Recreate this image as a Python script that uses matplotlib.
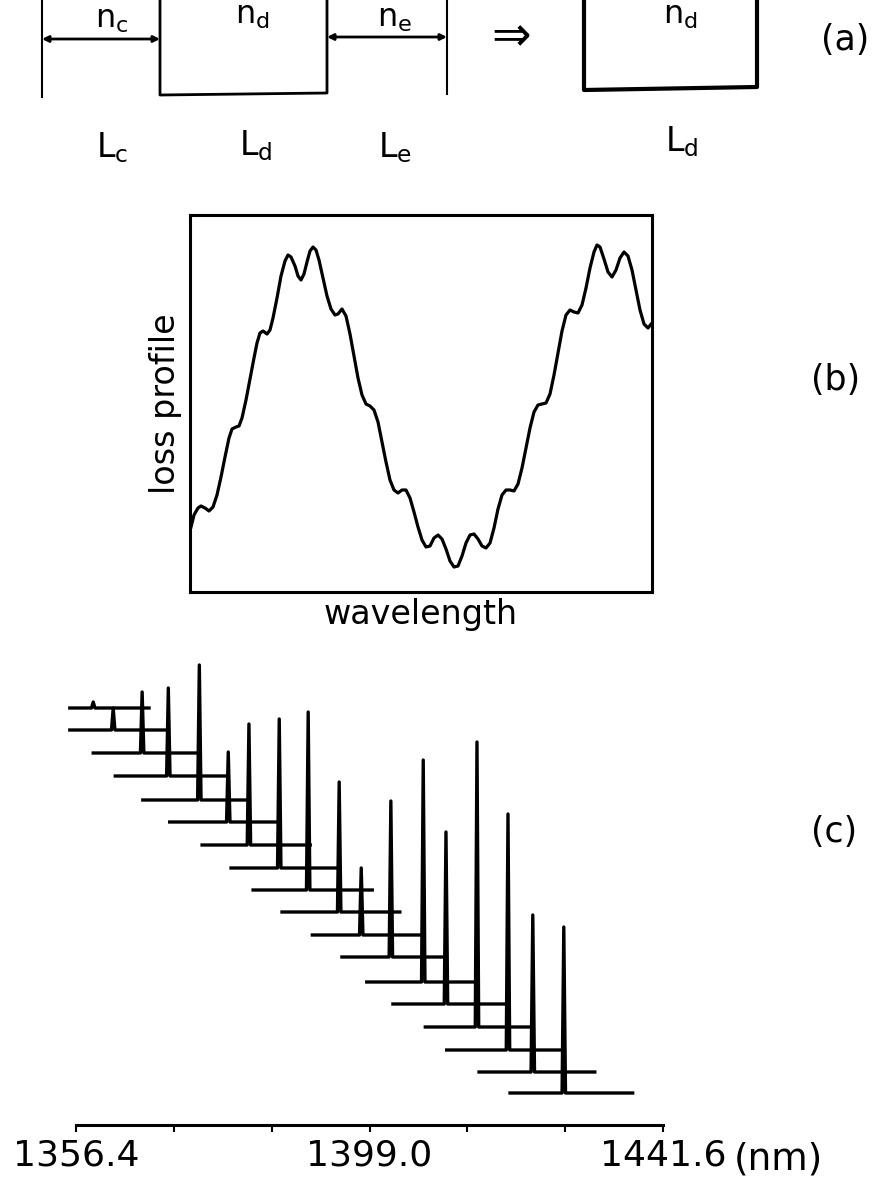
# -*- coding: utf-8 -*-
"""
Three-panel figure: cavity schematic (a), loss profile (b) and the
stacked lasing spectra (c).
"""

import matplotlib
matplotlib.use('Agg')
import matplotlib.pyplot as plt
import numpy as np

#-----------------------------------------------------------------------------------------------------------------------
# Panel (b): loss profile versus wavelength (arbitrary units)
wl_index = [1, 4, 8, 11, 15, 19, 23, 27, 31, 35, 39, 42, 46, 49, 52, 56, 60, 64, 67, 70,
            73, 77, 80, 83, 87, 91, 95, 98, 101, 105, 108, 111, 114, 117, 120, 123, 126, 129, 133, 137,
            141, 145, 148, 152, 156, 160, 164, 168, 172, 176, 180, 184, 188, 192, 196, 200, 204, 208, 212, 216,
            220, 224, 228, 232, 236, 240, 244, 248, 252, 256, 260, 264, 268, 272, 276, 280, 284, 288, 292, 296,
            300, 304, 308, 312, 316, 320, 324, 328, 332, 336, 340, 344, 348, 352, 356, 360, 364, 368, 372, 376,
            380, 384, 388, 392, 396, 400, 404, 407, 410, 414, 418, 422, 426, 430, 434, 438, 442, 446, 450, 454,
            458, 462]
loss = [65, 77, 84, 86, 84, 81, 85, 97, 115, 135, 154, 163, 165, 166, 174, 192, 213, 234, 249, 259,
        261, 258, 262, 274, 294, 316, 331, 337, 335, 326, 316, 312, 318, 330, 341, 345, 342, 332, 314, 296,
        283, 277, 278, 283, 276, 258, 236, 214, 197, 188, 186, 182, 170, 150, 130, 112, 102, 99, 102, 102,
        94, 80, 65, 52, 45, 46, 54, 57, 53, 43, 31, 25, 26, 36, 49, 57, 58, 53, 46, 44,
        49, 64, 83, 97, 102, 102, 101, 108, 124, 144, 164, 180, 187, 188, 189, 198, 217, 239, 261, 277,
        282, 280, 279, 287, 304, 324, 340, 347, 345, 333, 320, 315, 322, 334, 340, 336, 322, 302, 282, 268,
        264, 269]

#-----------------------------------------------------------------------------------------------------------------------
# Panel (c): stacked spectra, one row per tuning step
trace_start = [1355.5, 1355.5, 1358.9, 1362.1, 1366.1, 1370.0, 1374.7, 1378.9, 1382.1,
               1386.3, 1390.7, 1395.0, 1398.6, 1402.4, 1407.1, 1410.2, 1414.9, 1419.4]
trace_end = [1367.0, 1369.8, 1374.1, 1378.3, 1381.4, 1385.7, 1390.4, 1394.4, 1399.4,
             1403.4, 1406.8, 1409.7, 1414.6, 1419.0, 1422.6, 1427.1, 1431.7, 1437.2]
peak_nm = [1358.9, 1361.8, 1366.0, 1369.8, 1374.3, 1378.5, 1381.5, 1385.9, 1390.1,
           1394.6, 1397.8, 1402.1, 1406.8, 1410.1, 1414.6, 1419.1, 1422.7, 1427.2]
peak_height = [6, 22, 61, 88, 135, 70, 121, 149, 178, 130, 67, 156, 222, 172, 285, 236, 157, 166]
trace_offset = [417, 395, 372, 349, 325, 303, 280, 257, 235, 213, 190, 168, 143, 121, 98, 75, 53, 32]

axis_ticks = [1356.4, 1370.6, 1384.8, 1399.0, 1413.2, 1427.4, 1441.6]
axis_labels = ['1356.4', '', '', '1399.0', '', '', '1441.6']

#-----------------------------------------------------------------------------------------------------------------------
W, H = 872, 1184
fig = plt.figure(figsize=(W / 100, H / 100), dpi=100)
fig.patch.set_facecolor('white')

# overlay in pixel units for the schematic and panel tags
ax0 = fig.add_axes([0, 0, 1, 1])
ax0.set_xlim(0, W)
ax0.set_ylim(H, 0)
ax0.axis('off')
ax0.patch.set_visible(False)

k = 'black'
# (a) cladding / core / cladding
ax0.plot([42, 42], [0, 97], color=k, lw=1.5)
ax0.plot([160, 160, 327, 327], [0, 95, 93, 0], color=k, lw=2)
ax0.plot([447, 447], [0, 94], color=k, lw=1.5)
arrow = dict(arrowstyle='<|-|>', lw=2, color=k, mutation_scale=9, shrinkA=0, shrinkB=0)
ax0.annotate('', xy=(42, 39), xytext=(160, 39), arrowprops=arrow)
ax0.annotate('', xy=(327, 37), xytext=(447, 37), arrowprops=arrow)
ax0.text(511, 38, '⇒', fontsize=34, ha='center', va='center')
ax0.plot([584, 584, 757, 757], [0, 90, 87, 0], color=k, lw=3)

nfs = 23
ax0.text(112, 20, r'n$_\mathregular{c}$', fontsize=nfs, ha='center', va='center')
ax0.text(252, 16, r'n$_\mathregular{d}$', fontsize=nfs, ha='center', va='center')
ax0.text(395, 19, r'n$_\mathregular{e}$', fontsize=nfs, ha='center', va='center')
ax0.text(680, 16, r'n$_\mathregular{d}$', fontsize=nfs, ha='center', va='center')

lfs = 24
ax0.text(112, 148, r'L$_\mathregular{c}$', fontsize=lfs, ha='center', va='center')
ax0.text(256, 146, r'L$_\mathregular{d}$', fontsize=lfs, ha='center', va='center')
ax0.text(395, 148, r'L$_\mathregular{e}$', fontsize=lfs, ha='center', va='center')
ax0.text(682, 142, r'L$_\mathregular{d}$', fontsize=lfs, ha='center', va='center')

tfs = 25
ax0.text(845, 40, '(a)', fontsize=tfs, ha='center', va='center')
ax0.text(836, 380, '(b)', fontsize=tfs, ha='center', va='center')
ax0.text(834, 832, '(c)', fontsize=tfs, ha='center', va='center')

#-----------------------------------------------------------------------------------------------------------------------
# (b) loss profile
axb = fig.add_axes([190 / W, 1 - 592 / H, 462 / W, 377 / H])
axb.plot(wl_index, loss, color=k, lw=2.3, solid_joinstyle='round')
axb.set_xlim(0, 462)
axb.set_ylim(0, 377)
axb.set_xticks([])
axb.set_yticks([])
for s in axb.spines.values():
    s.set_linewidth(2.2)
axb.set_xlabel('wavelength', fontsize=24, labelpad=4)
axb.set_ylabel('loss profile', fontsize=24, labelpad=6)

#-----------------------------------------------------------------------------------------------------------------------
# (c) stacked spectra
axc = fig.add_axes([76 / W, 1 - 1125 / H, 587 / W, 465 / H])
axc.patch.set_visible(False)
for x0, x1, xp, h, off in zip(trace_start, trace_end, peak_nm, peak_height, trace_offset):
    xs = [x0, xp - 0.25, xp, xp + 0.25, x1]
    ys = np.array([0, 0, h, 0, 0]) + off
    axc.plot(xs, ys, color=k, lw=2.4, solid_joinstyle='round', clip_on=False)

axc.set_xlim(axis_ticks[0], axis_ticks[-1])
axc.set_ylim(0, 465)
axc.set_yticks([])
for side in ['top', 'right', 'left']:
    axc.spines[side].set_visible(False)
axc.spines['bottom'].set_linewidth(2.2)
axc.set_xticks(axis_ticks, axis_labels, fontsize=26)
axc.tick_params(axis='x', direction='out', length=5, width=1.5, pad=5)
axc.text(1.12, -0.075, '(nm)', transform=axc.transAxes, fontsize=27, ha='left', va='center')

plt.savefig('out.png', dpi=100)
plt.close()
